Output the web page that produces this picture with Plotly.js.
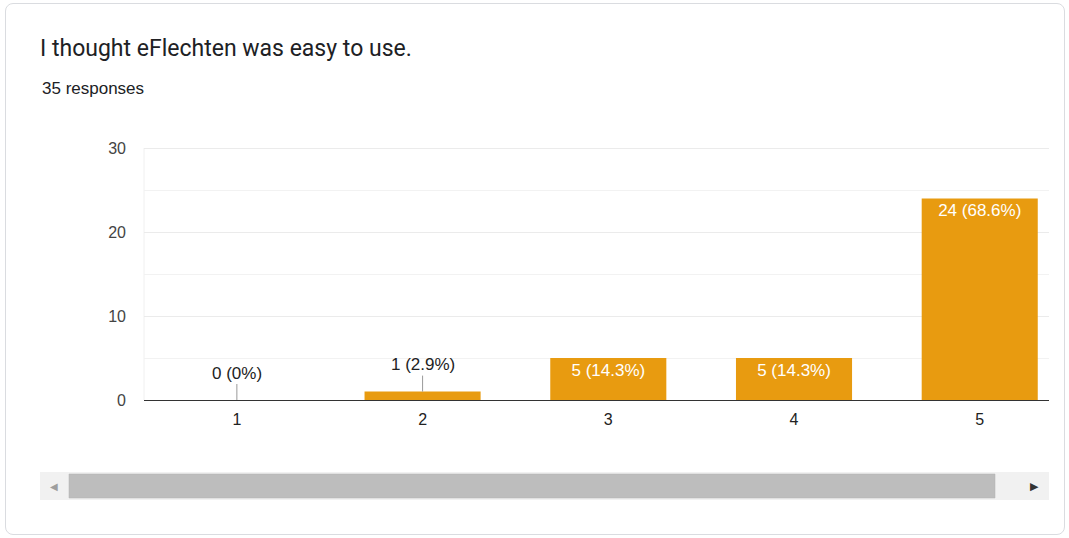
<!DOCTYPE html>
<html>
<head>
<meta charset="utf-8">
<script src="https://cdn.plot.ly/plotly-3.0.1.min.js"></script>
<style>
  html, body { margin: 0; padding: 0; background: #fff; }
  #chart { position: absolute; left: 0; top: 0; width: 1069px; height: 538px; }
  #card { position: absolute; left: 5px; top: 3px; width: 1058px; height: 530px;
          border: 1px solid #dadce0; border-radius: 8px; pointer-events: none; }
</style>
</head>
<body>
<div id="chart"></div>
<div id="card"></div>
<script>
const categories = ['1', '2', '3', '4', '5'];
const counts = [0, 1, 5, 5, 24];
const percentLabels = ['0%', '2.9%', '14.3%', '14.3%', '68.6%'];
const labelInside = [false, false, true, true, true];
const titleText = 'I thought eFlechten was easy to use.';
const subtitleText = '35 responses';

const labels = counts.map((c, i) => c + ' (' + percentLabels[i] + ')');
const FONT = 'Arial, "Liberation Sans", sans-serif';

const trace = {
  type: 'bar',
  x: categories,
  y: counts,
  marker: { color: '#e89b10' },
  width: 0.625,
  text: labels.map((t, i) => labelInside[i] ? t : ''),
  textposition: labelInside.map(v => v ? 'inside' : 'none'),
  insidetextanchor: 'end',
  textangle: 0,
  insidetextfont: { color: '#ffffff', size: 17, family: FONT },
  hoverinfo: 'none'
};

const annotations = [];
categories.forEach((c, i) => {
  if (!labelInside[i]) {
    annotations.push({
      x: i, y: counts[i], xref: 'x', yref: 'y',
      text: labels[i], showarrow: true, arrowhead: 0, arrowwidth: 1,
      arrowcolor: '#999999', ax: 0, ay: -27,
      font: { size: 17, color: '#222222', family: FONT }
    });
  }
});

const px = v => (v - 144) / 905;
const PLOT_TOP = 146, PLOT_BOTTOM = 400, PH = PLOT_BOTTOM - PLOT_TOP;
const py = v => (PLOT_BOTTOM - v) / PH;

// subtitle
annotations.push({
  xref: 'paper', yref: 'paper', x: px(40), y: py(88),
  xanchor: 'left', yanchor: 'middle', showarrow: false,
  text: subtitleText,
  font: { size: 17, color: '#202124', family: FONT }
});

// scrollbar arrows
annotations.push({
  xref: 'paper', yref: 'paper', x: px(54), y: py(486),
  xanchor: 'center', yanchor: 'middle', showarrow: false,
  text: '◀', font: { size: 10, color: '#9e9e9e', family: 'DejaVu Sans' }
});
annotations.push({
  xref: 'paper', yref: 'paper', x: px(1034), y: py(486),
  xanchor: 'center', yanchor: 'middle', showarrow: false,
  text: '▶', font: { size: 11, color: '#333333', family: 'DejaVu Sans' }
});

const shapes = [
  { type: 'rect', xref: 'paper', yref: 'paper', x0: px(40), x1: px(1049), y0: py(500), y1: py(472),
    fillcolor: '#f1f1f1', line: { width: 0 }, layer: 'below' },
  { type: 'rect', xref: 'paper', yref: 'paper', x0: px(69), x1: px(995), y0: py(498), y1: py(474),
    fillcolor: '#bdbdbd', line: { width: 0.5, color: '#b0b0b0' } },
  { type: 'line', xref: 'paper', yref: 'y', x0: 0, x1: 0, y0: 0, y1: 30,
    line: { width: 1, color: '#f0f0f0' }, layer: 'below' }
];

const layout = {
  width: 1069, height: 538,
  margin: { l: 144, r: 20, t: PLOT_TOP, b: 538 - PLOT_BOTTOM },
  paper_bgcolor: '#ffffff', plot_bgcolor: '#ffffff',
  font: { family: FONT, color: '#444444', size: 16 },
  title: {
    text: titleText, x: 40 / 1069, xanchor: 'left', xref: 'container',
    y: 1 - 48 / 538, yanchor: 'middle', yref: 'container',
    font: { size: 23, color: '#202124', family: 'Roboto, Arial, sans-serif' }
  },
  showlegend: false,
  xaxis: {
    type: 'category', range: [-0.5, 4.373], showgrid: false, showline: false, zeroline: false,
    ticks: '', tickfont: { size: 16, color: '#222222', family: FONT }, ticklabelstandoff: 8
  },
  yaxis: {
    range: [0, 30 * PH / 252], tickvals: [0, 10, 20, 30], showgrid: true,
    gridcolor: '#ebebeb', gridwidth: 1,
    minor: { tickvals: [5, 15, 25], showgrid: true, gridcolor: '#f2f2f2', gridwidth: 1 },
    zeroline: true, zerolinecolor: '#333333', zerolinewidth: 1,
    showline: false, ticks: '', tickfont: { size: 16, color: '#444444', family: FONT },
    ticklabelstandoff: 17
  },
  annotations: annotations,
  shapes: shapes
};

Plotly.newPlot('chart', [trace], layout, { displayModeBar: false, staticPlot: true });
</script>
</body>
</html>
